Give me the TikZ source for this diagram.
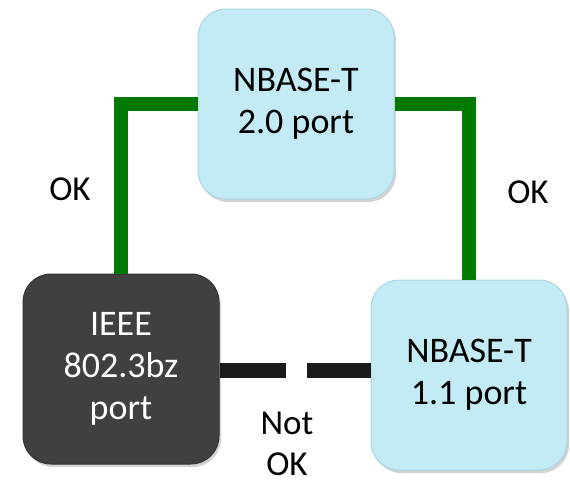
\documentclass[tikz,border=0pt]{standalone}
\usepackage{fontspec}
\setmainfont{Carlito}
\usetikzlibrary{shadows}
\definecolor{boxblue}{HTML}{C2EBF5}
\definecolor{boxedge}{HTML}{A9D6E2}
\definecolor{boxdark}{HTML}{404040}
\definecolor{okgreen}{HTML}{007A00}
\definecolor{nokline}{HTML}{1A1A1A}
\tikzset{
  portbox/.style={rounded corners=28pt, minimum width=196pt, minimum height=190pt,
    align=center, font=\fontsize{36}{42}\selectfont, inner sep=0pt,
    drop shadow={shadow xshift=2pt, shadow yshift=-3pt, opacity=0.35}},
  lightbox/.style={portbox, fill=boxblue, draw=boxedge, line width=1pt, text=black},
  darkbox/.style={portbox, fill=boxdark, draw=black!80, line width=1pt, text=white},
  okline/.style={draw=okgreen, line width=14pt},
  badline/.style={draw=nokline, line width=15pt},
  lbl/.style={font=\fontsize{35}{41}\selectfont, align=center, inner sep=0pt}
}
\begin{document}
\begin{tikzpicture}[x=1pt,y=-1pt]
\useasboundingbox (0,0) rectangle (570,485);
\node[lightbox] (top) at (296,104) {NBASE-T\\2.0 port};
\node[darkbox] (ieee) at (121,369) {IEEE\\802.3bz\\port};
\node[lightbox] (nb11) at (469,375) {NBASE-T\\1.1 port};
\coordinate (gapL) at (286,370);
\coordinate (gapR) at (307,370);
\draw[okline] (top.west) -| (ieee.north);
\draw[okline] (top.east) -| (nb11.north);
\draw[badline] (ieee.east |- gapL) -- (gapL);
\draw[badline] (gapR) -- (gapR -| nb11.west);
\node[lbl] (okl) at (70,189) {OK};
\node[lbl] (okr) at (528,192) {OK};
\node[lbl] (nok) at (287,444) {Not\\OK};
\end{tikzpicture}
\end{document}
